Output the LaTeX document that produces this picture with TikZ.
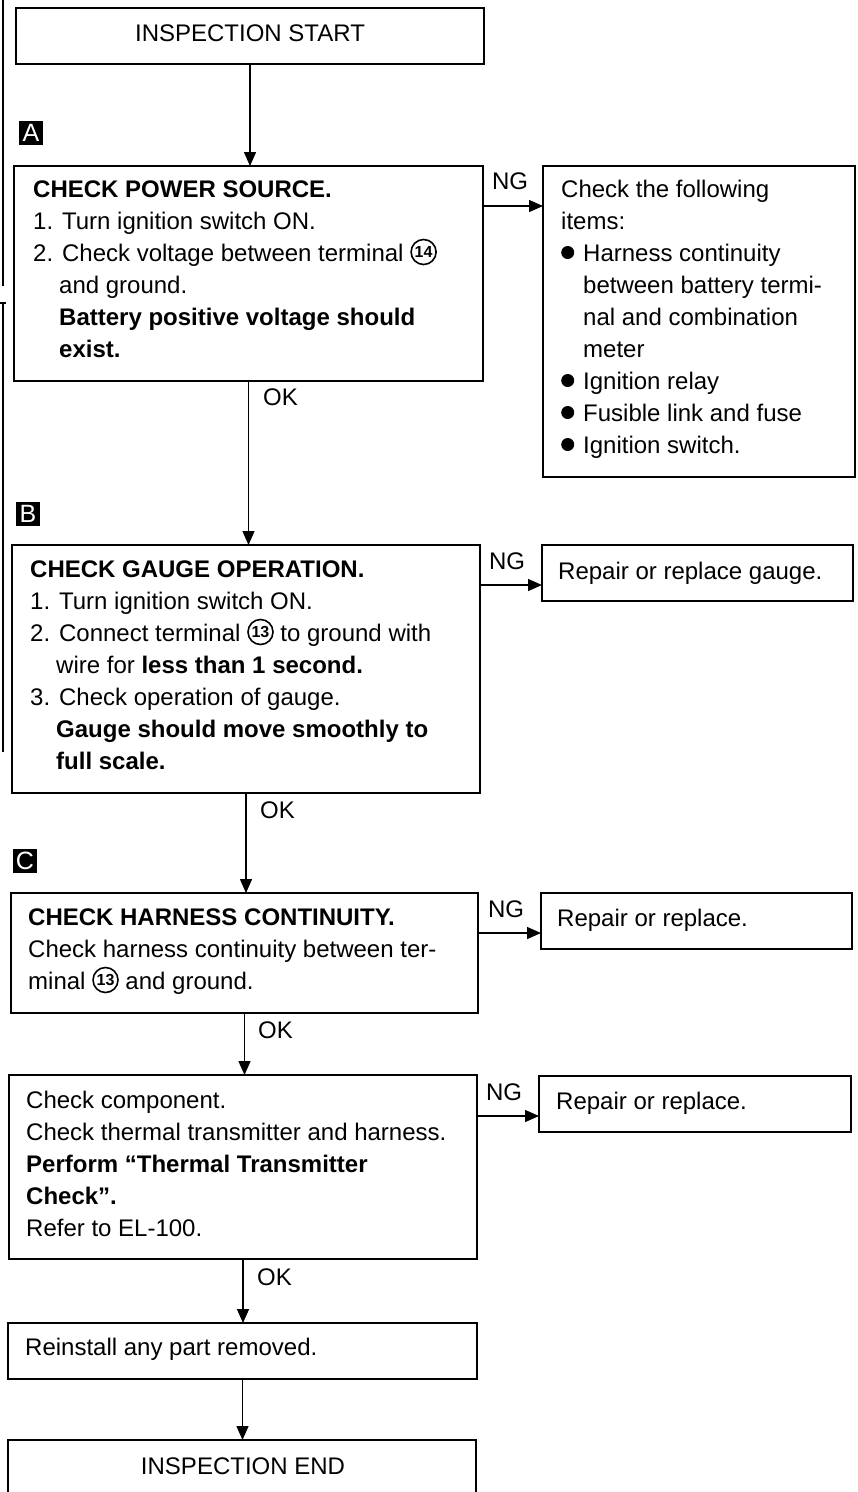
\documentclass[tikz,border=0pt]{standalone}
\usepackage{fontspec}
\setmainfont{Liberation Sans}
\usetikzlibrary{arrows.meta}

% circled terminal number, set inline in the text
\newcommand\circno[1]{\tikz[baseline=0pt]{%
  \draw[line width=1.6pt] (13pt,9pt) circle (12.5pt);
  \pgftext[at=\pgfpoint{13pt}{9pt}]{\fontsize{16}{16}\selectfont\bfseries #1}}}
% round bullet for item lists
\newcommand\bul{\tikz[baseline=0pt]{\fill (6.5pt,8.5pt) circle (6.5pt);}\hspace*{9pt}}
\newcommand\ind[1]{\hspace*{#1pt}}

% multi-line texts are placed by the baseline of their last line
\tikzset{
  box/.style={draw, line width=1.8pt, inner sep=0pt, outer sep=0pt, anchor=north west},
  txt/.style={anchor=base west, align=left, inner sep=0pt, font=\fontsize{24}{32}\selectfont},
  ctxt/.style={anchor=base, inner sep=0pt, font=\fontsize{24}{32}\selectfont},
  flow/.style={line width=1.4pt, -{Triangle[width=12pt,length=14pt]}},
  tag/.style={fill=black, text=white, minimum size=24pt, inner sep=0pt, font=\fontsize{25}{25}\selectfont},
  scanline/.style={line width=1.2pt},
}

\begin{document}
\begin{tikzpicture}[x=1pt, y=-1pt]
\useasboundingbox (0,0) rectangle (858,1492);
\clip (0,0) rectangle (858,1492);

% binding marks along the left edge
\draw[scanline] (3,0) -- (3,286);
\draw[scanline] (0,303) -- (6,303);
\draw[scanline] (3,303) -- (3,752);

% boxes
\node[box, minimum width=468pt, minimum height=56pt]  (start)  at (16,8) {};
\node[box, minimum width=469pt, minimum height=215pt] (boxA)   at (14,166) {};
\node[box, minimum width=312pt, minimum height=311pt] (right1) at (543,166) {};
\node[box, minimum width=468pt, minimum height=248pt] (boxB)   at (12,545) {};
\node[box, minimum width=311pt, minimum height=56pt]  (right2) at (542,545) {};
\node[box, minimum width=467pt, minimum height=120pt] (boxC)   at (11,893) {};
\node[box, minimum width=311pt, minimum height=56pt]  (right3) at (541,893) {};
\node[box, minimum width=468pt, minimum height=184pt] (boxD)   at (9,1075) {};
\node[box, minimum width=312pt, minimum height=56pt]  (right4) at (539,1076) {};
\node[box, minimum width=469pt, minimum height=56pt]  (boxE)   at (8,1323) {};
\node[box, minimum width=468pt, minimum height=80pt]  (finish) at (8,1440) {};

% step markers
\node[tag] (mA) at (31,133) {A};
\node[tag] (mB) at (28,514) {B};
\node[tag] (mC) at (25,861) {C};

% texts
\node[ctxt] (tStart) at (250,41) {INSPECTION START};
\node[txt] (tA) at (33,357) {\textbf{CHECK POWER SOURCE.}\\
  1. Turn ignition switch ON.\\
  2. Check voltage between terminal \circno{14}\\
  \ind{26}and ground.\\
  \ind{26}\textbf{Battery positive voltage should}\\
  \ind{26}\textbf{exist.}};
\node[txt] (t1) at (561,453) {Check the following\\
  items:\\
  \bul Harness continuity\\
  \ind{22}between battery termi-\\
  \ind{22}nal and combination\\
  \ind{22}meter\\
  \bul Ignition relay\\
  \bul Fusible link and fuse\\
  \bul Ignition switch.};
\node[txt] (tB) at (30,769) {\textbf{CHECK GAUGE OPERATION.}\\
  1. Turn ignition switch ON.\\
  2. Connect terminal \circno{13} to ground with\\
  \ind{26}wire for \textbf{less than 1 second.}\\
  3. Check operation of gauge.\\
  \ind{26}\textbf{Gauge should move smoothly to}\\
  \ind{26}\textbf{full scale.}};
\node[txt] (t2) at (558,579) {Repair or replace gauge.};
\node[txt] (tC) at (28,989) {\textbf{CHECK HARNESS CONTINUITY.}\\
  Check harness continuity between ter-\\
  minal \circno{13} and ground.};
\node[txt] (t3) at (557,926) {Repair or replace.};
\node[txt] (tD) at (26,1236) {Check component.\\
  Check thermal transmitter and harness.\\
  \textbf{Perform “Thermal Transmitter}\\
  \textbf{Check”.}\\
  Refer to EL-100.};
\node[txt] (t4) at (556,1109) {Repair or replace.};
\node[txt] (tE) at (25,1355) {Reinstall any part removed.};
\node[ctxt] (tEnd) at (243,1474) {INSPECTION END};

% branch labels
\node[ctxt] (ngA) at (510,189) {NG};
\node[ctxt] (ngB) at (507,569) {NG};
\node[ctxt] (ngC) at (506,917) {NG};
\node[ctxt] (ngD) at (504,1100) {NG};
\node[txt] (okA) at (263,405) {OK};
\node[txt] (okB) at (260,818) {OK};
\node[txt] (okC) at (258,1038) {OK};
\node[txt] (okD) at (257,1285) {OK};

% main flow
\draw[flow] (start.south) -- (start.south |- boxA.north);
\draw[flow] (boxA.south) -- (boxA.south |- boxB.north);
\draw[flow] (boxB.south) -- (boxB.south |- boxC.north);
\draw[flow] (boxC.south) -- (boxC.south |- boxD.north);
\draw[flow] (boxD.south) -- (boxD.south |- boxE.north);
\draw[flow] (boxE.south) -- (boxE.south |- finish.north);

% NG branches
\path (boxA.north east) ++(0,40) coordinate (pA);
\path (boxB.north east) ++(0,40) coordinate (pB);
\path (boxC.north east) ++(0,40) coordinate (pC);
\path (boxD.north east) ++(0,41) coordinate (pD);
\draw[flow] (pA) -- (pA -| right1.west);
\draw[flow] (pB) -- (pB -| right2.west);
\draw[flow] (pC) -- (pC -| right3.west);
\draw[flow] (pD) -- (pD -| right4.west);
\end{tikzpicture}
\end{document}
